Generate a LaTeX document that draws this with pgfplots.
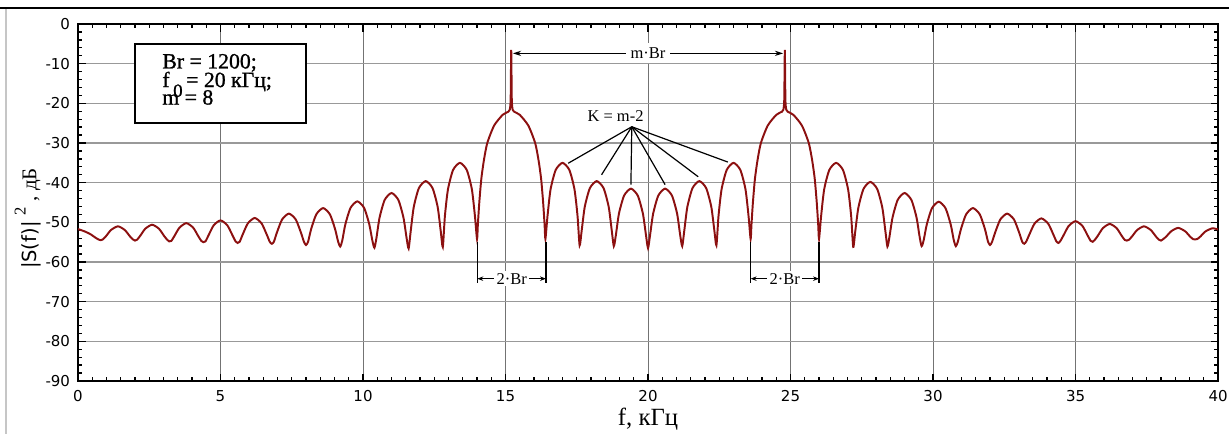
\documentclass[border=0pt]{standalone}
\usepackage{fontspec}
\setmainfont{Liberation Serif}
\setsansfont{DejaVu Sans}
\usepackage{pgfplots}
\pgfplotsset{compat=1.18}
\usetikzlibrary{arrows.meta}
\definecolor{curve}{RGB}{140,16,16}

\begin{document}
\begin{tikzpicture}
\useasboundingbox (-52pt,-35.3pt) rectangle (767.3pt,254pt);
\draw[gray!45, line width=0.7pt] (-48pt,-35.3pt) -- (-48pt,248.7pt);
\draw[black, line width=1.3pt] (-52pt,248.7pt) -- (767.3pt,248.7pt);
\begin{axis}[
  scale only axis, width=760pt, height=238pt,
  xmin=0, xmax=40, ymin=-90, ymax=0,
  xtick={0,5,...,40}, ytick={-90,-80,...,0},
  minor x tick num=9, minor y tick num=4,
  tick align=inside,
  major tick length=5pt, minor tick length=2.6pt,
  tick style={black, line width=0.9pt},
  axis line style={line width=1.3pt},
  grid=major,
  x grid style={black!55, line width=0.6pt},
  y grid style={black!40, line width=0.9pt},
  ticklabel style={font=\sffamily\fontsize{10}{12}\selectfont},
  /pgf/number format/assume math mode=true,
  xticklabel style={yshift=-3pt},
  yticklabel style={xshift=-1.8pt},
  xlabel={f, кГц},
  xlabel style={at={(axis description cs:0.5,-0.124)}, anchor=base, font=\fontsize{16.5}{18}\selectfont},
  ylabel={{\sffamily\fontsize{13}{15}\selectfont |S(f)|}\;\raisebox{1.1ex}{\fontsize{11}{12}\selectfont 2}\;, дБ},
  ylabel style={at={(axis description cs:-0.044,0.455)}, anchor=center, font=\fontsize{14}{16}\selectfont},
]
% spectrum, dB
\addplot[curve, line width=1.3pt, smooth, tension=0.4] coordinates {
(0,-51.7) (0.24,-52.3) (0.44,-53.0) (0.62,-53.9) (0.728,-54.35) (0.8,-54.5)
(0.872,-54.31) (0.98,-53.51) (1.16,-51.92) (1.4,-51.0) (1.64,-51.92) (1.82,-53.51) (1.928,-54.31) (2.0,-54.6)
(2.072,-54.38) (2.18,-53.42) (2.36,-51.61) (2.6,-50.6) (2.84,-51.61) (3.02,-53.42) (3.128,-54.38) (3.2,-54.8)
(3.272,-54.7) (3.38,-53.48) (3.56,-51.34) (3.8,-50.2) (4.04,-51.34) (4.22,-53.48) (4.328,-54.7) (4.4,-55.0)
(4.472,-54.8) (4.58,-53.27) (4.76,-50.76) (5.0,-49.5) (5.24,-50.76) (5.42,-53.27) (5.528,-54.8) (5.6,-55.2)
(5.672,-54.9) (5.78,-53.04) (5.96,-50.25) (6.2,-48.9) (6.44,-50.25) (6.62,-53.04) (6.728,-54.9) (6.8,-55.4)
(6.872,-54.9) (6.98,-52.55) (7.16,-49.28) (7.4,-47.8) (7.64,-49.28) (7.82,-52.55) (7.928,-54.9) (8.0,-55.7)
(8.072,-54.9) (8.18,-51.7) (8.36,-48.0) (8.6,-46.4) (8.84,-48.0) (9.02,-51.7) (9.128,-54.9) (9.2,-56.1)
(9.272,-54.6) (9.38,-50.5) (9.56,-46.38) (9.8,-44.7) (10.04,-46.38) (10.22,-50.5) (10.328,-54.6) (10.4,-56.4)
(10.472,-53.9) (10.58,-48.83) (10.76,-44.35) (11.0,-42.6) (11.24,-44.35) (11.42,-48.83) (11.528,-53.9) (11.6,-56.6)
(11.672,-52.3) (11.78,-46.15) (11.96,-41.38) (12.2,-39.6) (12.44,-41.38) (12.62,-46.15) (12.728,-52.3) (12.8,-56.2)
(12.872,-48.5) (12.98,-41.7) (13.16,-36.8) (13.4,-35.0) (13.64,-36.8) (13.82,-41.7) (13.928,-48.5) (14.0,-54.2)
(14.03,-50.5) (14.08,-45) (14.15,-39.1) (14.24,-34.4) (14.36,-30.0) (14.6,-25.6) (14.9,-22.9) (15.1,-22.1)
(15.15,-21.6) (15.18,-19) (15.2,-6.5) (15.22,-19) (15.25,-21.6) (15.3,-22.1) (15.5,-22.9) (15.8,-25.6)
(16.04,-30.0) (16.16,-34.4) (16.25,-39.1) (16.32,-45) (16.37,-50.5) (16.4,-54.2)
(16.472,-48.5) (16.58,-41.7) (16.76,-36.8) (17.0,-35.0) (17.24,-36.8) (17.42,-41.7) (17.528,-48.5) (17.6,-55.8)
(17.672,-52.1) (17.78,-46.1) (17.96,-41.38) (18.2,-39.6) (18.44,-41.38) (18.62,-46.1) (18.728,-52.1) (18.8,-56.0)
(18.872,-53.2) (18.98,-47.8) (19.16,-43.26) (19.4,-41.5) (19.64,-43.26) (19.82,-47.8) (19.928,-53.2) (20.0,-56.5)
(20.072,-53.2) (20.18,-47.8) (20.36,-43.26) (20.6,-41.5) (20.84,-43.26) (21.02,-47.8) (21.128,-53.2) (21.2,-56.0)
(21.272,-52.1) (21.38,-46.1) (21.56,-41.38) (21.8,-39.6) (22.04,-41.38) (22.22,-46.1) (22.328,-52.1) (22.4,-55.8)
(22.472,-48.5) (22.58,-41.7) (22.76,-36.8) (23.0,-35.0) (23.24,-36.8) (23.42,-41.7) (23.528,-48.5) (23.6,-54.2)
(23.63,-50.5) (23.68,-45) (23.75,-39.1) (23.84,-34.4) (23.96,-30.0) (24.2,-25.6) (24.5,-22.9) (24.7,-22.1)
(24.75,-21.6) (24.78,-19) (24.8,-6.5) (24.82,-19) (24.85,-21.6) (24.9,-22.1) (25.1,-22.9) (25.4,-25.6)
(25.64,-30.0) (25.76,-34.4) (25.85,-39.1) (25.92,-45) (25.97,-50.5) (26.0,-54.2)
(26.072,-48.5) (26.18,-41.7) (26.36,-36.8) (26.6,-35.0) (26.84,-36.8) (27.02,-41.7) (27.128,-48.5) (27.2,-56.2)
(27.272,-52.2) (27.38,-46.3) (27.56,-41.58) (27.8,-39.8) (28.04,-41.58) (28.22,-46.3) (28.328,-52.2) (28.4,-56.1)
(28.472,-53.6) (28.58,-48.75) (28.76,-44.34) (29.0,-42.6) (29.24,-44.34) (29.42,-48.75) (29.528,-53.6) (29.6,-56.0)
(29.672,-54.5) (29.78,-50.55) (29.96,-46.47) (30.2,-44.8) (30.44,-46.47) (30.62,-50.55) (30.728,-54.5) (30.8,-56.0)
(30.872,-54.85) (30.98,-51.68) (31.16,-47.99) (31.4,-46.4) (31.64,-47.99) (31.82,-51.68) (31.928,-54.85) (32.0,-55.7)
(32.072,-54.9) (32.18,-52.55) (32.36,-49.28) (32.6,-47.8) (32.84,-49.28) (33.02,-52.55) (33.128,-54.9) (33.2,-55.4)
(33.272,-54.8) (33.38,-53.05) (33.56,-50.33) (33.8,-49.0) (34.04,-50.33) (34.22,-53.05) (34.328,-54.8) (34.4,-55.2)
(34.472,-54.65) (34.58,-53.25) (34.76,-50.9) (35.0,-49.7) (35.24,-50.9) (35.42,-53.25) (35.528,-54.65) (35.6,-54.9)
(35.672,-54.45) (35.78,-53.4) (35.96,-51.46) (36.2,-50.4) (36.44,-51.46) (36.62,-53.4) (36.728,-54.45) (36.8,-54.6)
(36.872,-54.4) (36.98,-53.57) (37.16,-51.94) (37.4,-51.0) (37.64,-51.94) (37.82,-53.57) (37.928,-54.4) (38.0,-54.6)
(38.072,-54.25) (38.18,-53.59) (38.36,-52.22) (38.6,-51.4) (38.84,-52.22) (39.02,-53.59) (39.128,-54.25) (39.2,-54.3)
(39.272,-54.2) (39.38,-53.57) (39.56,-52.28) (39.8,-51.5) (40.0,-51.8)
};

% parameter box
\draw[line width=1.3pt, fill=white] (axis cs:2,-5) rectangle (axis cs:8,-24.9);
\node[anchor=base west, inner sep=0, font=\fontsize{14.5}{15}\selectfont\addfontfeature{FakeBold=1}] at (axis cs:2.95,-11.2) {Br = 1200;};
\node[anchor=base west, inner sep=0, font=\fontsize{14.5}{15}\selectfont\addfontfeature{FakeBold=1}] at (axis cs:2.95,-15.9)
  {f\,\raisebox{-0.45em}{\fontsize{12.5}{13}\selectfont 0}\,= 20 кГц;};
\node[anchor=base west, inner sep=0, font=\fontsize{14.5}{15}\selectfont\addfontfeature{FakeBold=1}] at (axis cs:2.95,-20.3) {m = 8};

% m*Br
\draw[{Stealth[length=5.5pt,width=3.5pt]}-{Stealth[length=5.5pt,width=3.5pt]}, line width=0.7pt]
  (axis cs:15.26,-7.4) -- (axis cs:24.74,-7.4)
  node[midway, fill=white, inner sep=3pt, font=\fontsize{11}{12}\selectfont] {m·Br};

% K = m-2
\node[font=\fontsize{11}{12}\selectfont] at (axis cs:18.86,-23.3) {K = m-2};
\draw[line width=0.8pt] (axis cs:19.43,-25.9) -- (axis cs:17.2,-35.1);
\draw[line width=0.8pt] (axis cs:19.43,-25.9) -- (axis cs:18.37,-38.0);
\draw[line width=0.8pt] (axis cs:19.43,-25.9) -- (axis cs:19.4,-40.5);
\draw[line width=0.8pt] (axis cs:19.43,-25.9) -- (axis cs:20.6,-40.5);
\draw[line width=0.8pt] (axis cs:19.43,-25.9) -- (axis cs:21.76,-38.5);
\draw[line width=0.8pt] (axis cs:19.43,-25.9) -- (axis cs:22.8,-34.8);

% 2*Br
\draw[line width=0.8pt] (axis cs:14.01,-55) -- (axis cs:14.01,-65.4);
\draw[line width=0.8pt] (axis cs:16.42,-55) -- (axis cs:16.42,-65.4);
\draw[{Stealth[length=4pt,width=3pt]}-{Stealth[length=4pt,width=3pt]}, line width=0.6pt]
  (axis cs:14.01,-64.2) -- (axis cs:16.42,-64.2)
  node[midway, fill=white, inner sep=1.5pt, font=\fontsize{11}{12}\selectfont] {2·Br};
\draw[line width=0.8pt] (axis cs:23.6,-55) -- (axis cs:23.6,-65.4);
\draw[line width=0.8pt] (axis cs:26.0,-55) -- (axis cs:26.0,-65.4);
\draw[{Stealth[length=4pt,width=3pt]}-{Stealth[length=4pt,width=3pt]}, line width=0.6pt]
  (axis cs:23.6,-64.2) -- (axis cs:26.0,-64.2)
  node[midway, fill=white, inner sep=1.5pt, font=\fontsize{11}{12}\selectfont] {2·Br};
\end{axis}
\end{tikzpicture}
\end{document}
